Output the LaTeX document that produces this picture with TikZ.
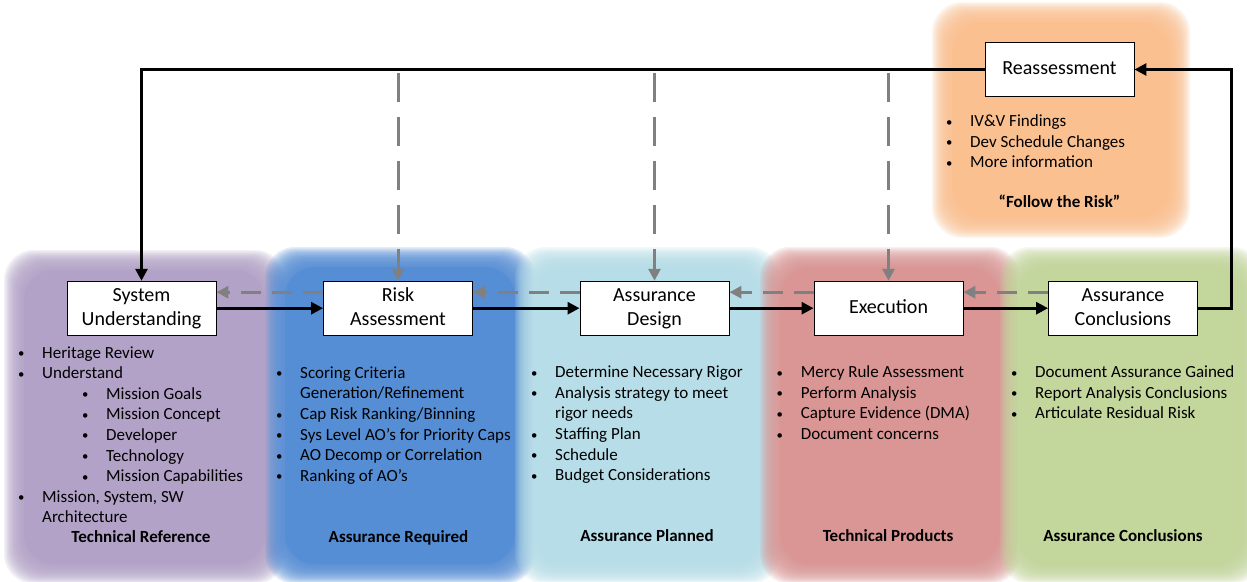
\documentclass[tikz,border=0pt]{standalone}
\usepackage{fontspec}
\setmainfont{Carlito}
\usetikzlibrary{arrows.meta}
\definecolor{cpurple}{RGB}{179,162,199}
\definecolor{cblue}{RGB}{85,142,213}
\definecolor{clblue}{RGB}{183,222,232}
\definecolor{cred}{RGB}{217,150,148}
\definecolor{cgreen}{RGB}{195,214,155}
\definecolor{corange}{RGB}{250,192,144}
\definecolor{cgray}{RGB}{128,128,128}
\newcommand\softpanel[5]{%
  \foreach \i in {0,...,15}{%
    \fill[#1,fill opacity=0.15,rounded corners=30pt] (#2+\i*1.25,#3+\i*1.25) rectangle (#4-\i*1.25,#5-\i*1.25);
  }%
  \fill[#1,rounded corners=30pt] (#2+20,#3+20) rectangle (#4-20,#5-20);
}
\newcommand\bul{\raisebox{0.5pt}{\scalebox{0.75}{\textbullet}}}
\newcommand\bitem[4]{\node[itm] (#1) at (#2-42,#3) {\makebox[42pt][c]{\bul}#4};}
\newcommand\citem[4]{\node[itm] (#1) at (#2,#3) {#4};}
\tikzset{
  box/.style={draw=black,line width=0.9pt,fill=white,minimum width=149pt,minimum height=54pt,align=center,inner sep=2pt,font=\fontsize{20}{24}\selectfont},
  itm/.style={inner sep=0pt,anchor=base west,font=\fontsize{17}{20.6}\selectfont},
  lbl/.style={inner sep=0pt,anchor=base,font=\bfseries\fontsize{17}{20.6}\selectfont},
  flow/.style={line width=2.8pt,line join=miter,-{Triangle[length=12pt,width=12pt]}},
  back/.style={draw=cgray,line width=3pt,dash pattern=on 20pt off 11pt,-{Triangle[length=12pt,width=12pt]}},
  backv/.style={back,dash pattern=on 29pt off 15pt},
}
\begin{document}
\begin{tikzpicture}[x=1pt,y=-1pt]
\useasboundingbox (0,0) rectangle (1247,581);
\clip (0,0) rectangle (1247,581);
\fill[white] (0,0) rectangle (1247,581);
% panels
\softpanel{cpurple}{4}{250}{285}{584}
\softpanel{cblue}{265}{247}{535}{584}
\softpanel{clblue}{515}{247}{780}{584}
\softpanel{cred}{760}{247}{1020}{584}
\softpanel{cgreen}{1000}{247}{1262}{584}
\softpanel{corange}{932}{2}{1190}{238}
% boxes
\node[box] (su) at (141.5,308.2) {System\strut\\Understanding\strut};
\node[box] (ra) at (398,308.2) {Risk\strut\\Assessment\strut};
\node[box] (ad) at (654.5,308.2) {Assurance\strut\\Design\strut};
\node[box] (ex) at (888.5,308.2) {Execution\strut};
\node[box] (ac) at (1123,308.2) {Assurance\strut\\Conclusions\strut};
\node[box] (re) at (1059.5,69.5) {Reassessment\strut};
% purple list
\bitem{p1}{42}{358}{Heritage Review}
\bitem{p2}{42}{378.6}{Understand}
\bitem{p3}{106}{399.2}{Mission Goals}
\bitem{p4}{106}{419.8}{Mission Concept}
\bitem{p5}{106}{440.4}{Developer}
\bitem{p6}{106}{461}{Technology}
\bitem{p7}{106}{481.6}{Mission Capabilities}
\bitem{p8}{42}{502.2}{Mission, System, SW}
\citem{p9}{42}{522.8}{Architecture}
% blue list
\bitem{b1}{300}{378.3}{Scoring Criteria}
\citem{b2}{300}{398.9}{Generation/Refinement}
\bitem{b3}{300}{419.5}{Cap Risk Ranking/Binning}
\bitem{b4}{300}{440.1}{Sys Level AO’s for Priority Caps}
\bitem{b5}{300}{460.7}{AO Decomp or Correlation}
\bitem{b6}{300}{481.3}{Ranking of AO’s}
% light blue list
\bitem{l1}{555}{377.7}{Determine Necessary Rigor}
\bitem{l2}{555}{398.3}{Analysis strategy to meet}
\citem{l3}{555}{418.9}{rigor needs}
\bitem{l4}{555}{439.5}{Staffing Plan}
\bitem{l5}{555}{460.1}{Schedule}
\bitem{l6}{555}{480.7}{Budget Considerations}
% red list
\bitem{r1}{800.7}{377.7}{Mercy Rule Assessment}
\bitem{r2}{800.7}{398.3}{Perform Analysis}
\bitem{r3}{800.7}{418.9}{Capture Evidence (DMA)}
\bitem{r4}{800.7}{439.5}{Document concerns}
% green list
\bitem{g1}{1035}{377.7}{Document Assurance Gained}
\bitem{g2}{1035}{398.3}{Report Analysis Conclusions}
\bitem{g3}{1035}{418.9}{Articulate Residual Risk}
% orange list
\bitem{o1}{970}{126.7}{IV\&V Findings}
\bitem{o2}{970}{147.3}{Dev Schedule Changes}
\bitem{o3}{970}{167.9}{More information}
% labels
\node[lbl] (t1) at (141,542) {Technical Reference};
\node[lbl] (t2) at (398.5,542) {Assurance Required};
\node[lbl] (t3) at (647,541) {Assurance Planned};
\node[lbl] (t4) at (888,541) {Technical Products};
\node[lbl] (t5) at (1123,541) {Assurance Conclusions};
\node[lbl] (t6) at (1059.5,207) {“Follow the Risk”};
% connectors
\coordinate (cr) at (1231.5,69.5);
\draw[flow] (su.east) -- (ra.west);
\draw[flow] (ra.east) -- (ad.west);
\draw[flow] (ad.east) -- (ex.west);
\draw[flow] (ex.east) -- (ac.west);
\draw[flow] (ac.east) -| (cr) -- (re.east);
\draw[flow] (re.west) -| (su.north);
\draw[back] ([yshift=16pt]ra.west) -- ([yshift=16pt]su.east);
\draw[back] ([yshift=16pt]ad.west) -- ([yshift=16pt]ra.east);
\draw[back] ([yshift=16pt]ex.west) -- ([yshift=16pt]ad.east);
\draw[back] ([yshift=16pt]ac.west) -- ([yshift=16pt]ex.east);
\draw[backv] ([yshift=-3pt]ra.north |- re.west) -- (ra.north);
\draw[backv] ([yshift=-3pt]ad.north |- re.west) -- (ad.north);
\draw[backv] ([yshift=-3pt]ex.north |- re.west) -- (ex.north);
\end{tikzpicture}
\end{document}
